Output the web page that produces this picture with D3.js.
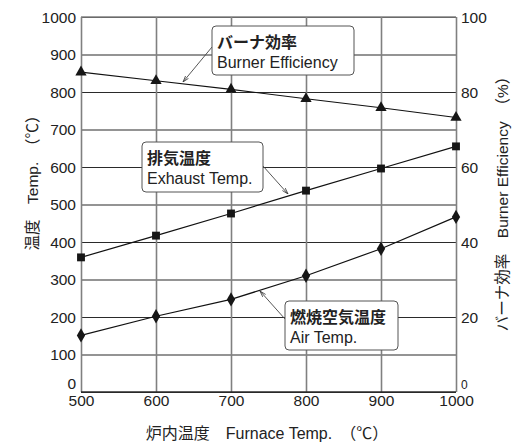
<!DOCTYPE html>
<html>
<head>
<meta charset="utf-8">
<script src="https://cdn.jsdelivr.net/npm/d3@7"></script>
<style>
  html, body { margin: 0; padding: 0; background: #fff; }
  svg { display: block; }
  text { font-family: "Liberation Sans", Arial, "Noto Sans CJK JP", sans-serif; fill: #222; }
  .jp { font-family: "Noto Sans CJK JP", sans-serif; }
</style>
</head>
<body>
<svg id="chart" width="513" height="442"></svg>
<script>
// Furnace temperature (°C) on the x axis
const furnaceTemps = [500, 600, 700, 800, 900, 1000];
// Burner efficiency (%) — right axis
const burnerEfficiency = [85.3, 83.0, 80.7, 78.2, 75.8, 73.2];
// Exhaust gas temperature (°C) — left axis
const exhaustTemp = [359, 417, 476, 537, 596, 655];
// Combustion air temperature (°C) — left axis
const airTemp = [151, 202, 247, 310, 382, 467];
// Axis ticks
const xTicks = [500, 600, 700, 800, 900, 1000];
const tempTicks = [0, 100, 200, 300, 400, 500, 600, 700, 800, 900, 1000];
const effTicks = [0, 20, 40, 60, 80, 100];

const svg = d3.select("#chart");
const m = { left: 81, right: 456, top: 17, bottom: 392 };
const fmt = d3.format("d");

const x = d3.scaleLinear().domain([500, 1000]).range([m.left, m.right]);
const yT = d3.scaleLinear().domain([0, 1000]).range([m.bottom, m.top]);
const yE = d3.scaleLinear().domain([0, 100]).range([m.bottom, m.top]);

// Horizontal grid (dark)
svg.append("g")
  .attr("transform", `translate(${m.left},0)`)
  .call(d3.axisLeft(yT).tickValues(tempTicks).tickSize(-(m.right - m.left)).tickFormat(""))
  .call(g => g.select(".domain").remove())
  .call(g => g.selectAll("line").attr("stroke", "#2a2a2a").attr("stroke-width", 1.1));

// Vertical grid (grey)
svg.append("g")
  .attr("transform", `translate(0,${m.bottom})`)
  .call(d3.axisBottom(x).tickValues(xTicks).tickSize(-(m.bottom - m.top)).tickFormat(""))
  .call(g => g.select(".domain").remove())
  .call(g => g.selectAll("line").attr("stroke", "#808080").attr("stroke-width", 1.6));

// Frame
svg.append("line").attr("x1", m.left).attr("x2", m.right).attr("y1", m.top).attr("y2", m.top)
  .attr("stroke", "#808080").attr("stroke-width", 1.6);
svg.append("line").attr("x1", m.left).attr("x2", m.right).attr("y1", m.bottom).attr("y2", m.bottom)
  .attr("stroke", "#2a2a2a").attr("stroke-width", 1.6);

// Left axis labels
svg.append("g")
  .attr("transform", `translate(${m.left},0)`)
  .call(d3.axisLeft(yT).tickValues(tempTicks).tickFormat(fmt).tickSize(0).tickPadding(5))
  .call(g => g.select(".domain").remove())
  .call(g => g.selectAll("text")
    .attr("font-size", 15.5).attr("font-family", "Liberation Sans, Arial, sans-serif").attr("fill", "#222")
    .attr("dy", d => d === 0 ? "-0.25em" : "0.34em"));

// Right axis labels
svg.append("g")
  .attr("transform", `translate(${m.right},0)`)
  .call(d3.axisRight(yE).tickValues(effTicks).tickFormat(fmt).tickSize(0).tickPadding(5))
  .call(g => g.select(".domain").remove())
  .call(g => g.selectAll("text")
    .attr("font-size", d => d === 0 ? 12 : 15.5).attr("font-family", "Liberation Sans, Arial, sans-serif").attr("fill", "#222")
    .attr("dy", d => d === 0 ? "-0.3em" : "0.34em"));

// Bottom axis labels
svg.append("g")
  .attr("transform", `translate(0,${m.bottom})`)
  .call(d3.axisBottom(x).tickValues(xTicks).tickFormat(fmt).tickSize(0).tickPadding(3))
  .call(g => g.select(".domain").remove())
  .call(g => g.selectAll("text")
    .attr("font-size", 15.5).attr("font-family", "Liberation Sans, Arial, sans-serif").attr("fill", "#222"));

// Axis titles
svg.append("text").attr("x", 267).attr("y", 439).attr("text-anchor", "middle")
  .attr("font-size", 16).attr("fill", "#333")
  .text("炉内温度　Furnace Temp.　（℃）");

svg.append("text").attr("transform", "translate(38,179) rotate(-90)").attr("text-anchor", "middle")
  .attr("font-size", 15.5).attr("fill", "#333")
  .text("温度　Temp.　（℃）");

svg.append("text").attr("transform", "translate(508,200) rotate(-90)").attr("text-anchor", "middle")
  .attr("font-size", 15.5).attr("fill", "#333")
  .text("バーナ効率　Burner Efficiency　（%）");

// Series lines and markers
const series = [
  { values: burnerEfficiency, y: yE, symbol: d3.symbolTriangle, size: 55 },
  { values: exhaustTemp, y: yT, symbol: d3.symbolSquare, size: 62 },
  { values: airTemp, y: yT, symbol: d3.symbolDiamond, size: 60 }
];

series.forEach(s => {
  const pts = furnaceTemps.map((t, i) => [t, s.values[i]]);
  svg.append("path")
    .datum(pts)
    .attr("fill", "none").attr("stroke", "#111").attr("stroke-width", 1.2)
    .attr("d", d3.line().x(d => x(d[0])).y(d => s.y(d[1])));
  svg.append("g").selectAll("path").data(pts).join("path")
    .attr("transform", d => `translate(${x(d[0])},${s.y(d[1])})`)
    .attr("d", d3.symbol().type(s.symbol).size(s.size))
    .attr("fill", "#161616");
});

// Callouts with leader arrows
const defs = svg.append("defs");
defs.append("marker").attr("id", "arrow")
  .attr("viewBox", "0 0 10 10").attr("refX", 10).attr("refY", 5)
  .attr("markerWidth", 7).attr("markerHeight", 7).attr("orient", "auto")
  .append("path").attr("d", "M0,2 L10,5 L0,8").attr("fill", "none").attr("stroke", "#333").attr("stroke-width", 1.2);

const callouts = [
  { box: [212, 26, 142, 49], jp: "バーナ効率", en: "Burner Efficiency", lead: [[212, 47], [183, 82]] },
  { box: [142, 142, 121, 50], jp: "排気温度", en: "Exhaust Temp.", lead: [[263, 166], [288, 194]] },
  { box: [285, 301, 113, 49], jp: "燃焼空気温度", en: "Air Temp.", lead: [[285, 319], [260, 291]] }
];

callouts.forEach(c => {
  svg.append("line")
    .attr("x1", c.lead[0][0]).attr("y1", c.lead[0][1])
    .attr("x2", c.lead[1][0]).attr("y2", c.lead[1][1])
    .attr("stroke", "#444").attr("stroke-width", 0.9)
    .attr("marker-end", "url(#arrow)");
  const [bx, by, bw, bh] = c.box;
  svg.append("rect").attr("x", bx).attr("y", by).attr("width", bw).attr("height", bh)
    .attr("rx", 4).attr("fill", "#fff").attr("stroke", "#555").attr("stroke-width", 1);
  svg.append("text").attr("class", "jp").attr("x", bx + 5).attr("y", by + 22)
    .attr("font-size", 16).attr("font-weight", 700).attr("fill", "#2a2a2a").text(c.jp);
  svg.append("text").attr("x", bx + 5).attr("y", by + 42)
    .attr("font-size", 16).attr("fill", "#2a2a2a").text(c.en);
});
</script>
</body>
</html>
